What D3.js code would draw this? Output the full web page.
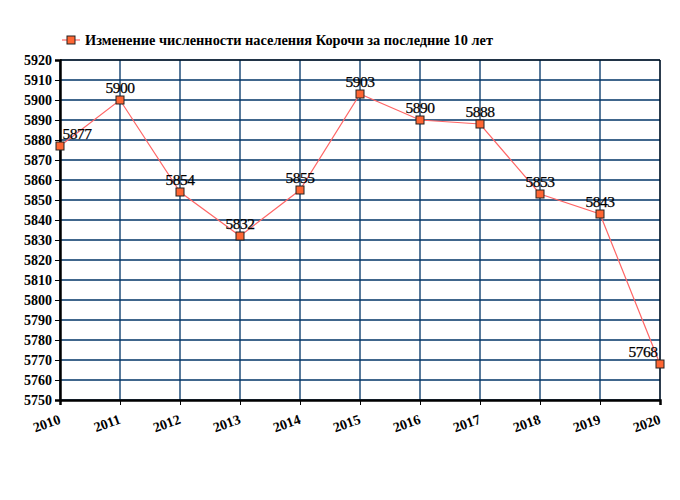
<!DOCTYPE html>
<html><head><meta charset="utf-8">
<script src="https://cdn.jsdelivr.net/npm/d3@7"></script>
<style>body{margin:0;background:#fff}</style>
</head><body>
<svg id="c" width="680" height="500"></svg>
<script>
const years = [2010,2011,2012,2013,2014,2015,2016,2017,2018,2019,2020];
const population = [5877,5900,5854,5832,5855,5903,5890,5888,5853,5843,5768];
const yTicks = [5750,5760,5770,5780,5790,5800,5810,5820,5830,5840,5850,5860,5870,5880,5890,5900,5910,5920];
const title = "Изменение численности населения Корочи за последние 10 лет";

const svg = d3.select("#c");
const L=60,R=660,T=60,B=400;
const x = d3.scaleLinear().domain([2010,2020]).range([L,R]);
const y = d3.scaleLinear().domain([5750,5920]).range([B,T]);
const font = "'Liberation Serif','Times New Roman',serif";

// grid
svg.append("g").selectAll("line").data(yTicks).join("line")
  .attr("x1",L).attr("x2",R).attr("y1",d=>y(d)).attr("y2",d=>y(d))
  .attr("stroke","#003366").attr("stroke-width",1.3);
svg.append("g").selectAll("line").data(years).join("line")
  .attr("x1",d=>x(d)).attr("x2",d=>x(d)).attr("y1",T).attr("y2",B)
  .attr("stroke","#003366").attr("stroke-width",1.3);
// border
svg.append("line").attr("x1",L).attr("x2",R).attr("y1",T).attr("y2",T).attr("stroke","#000").attr("stroke-width",1);
svg.append("line").attr("x1",R).attr("x2",R).attr("y1",T).attr("y2",B).attr("stroke","#000").attr("stroke-width",1);

// axes
const ya = svg.append("g").attr("transform",`translate(${L},0)`)
  .call(d3.axisLeft(y).tickValues(yTicks).tickSize(5).tickPadding(3).tickFormat(d3.format("d")));
ya.select(".domain").attr("stroke-width",2.5);
ya.selectAll("text").attr("font-family",font).attr("font-weight","bold").attr("font-size",14).attr("fill","#000");
const xa = svg.append("g").attr("transform",`translate(0,${B})`)
  .call(d3.axisBottom(x).tickValues(years).tickSize(5).tickFormat(d3.format("d")));
xa.select(".domain").attr("stroke-width",2.5);
xa.selectAll("text").attr("font-family",font).attr("font-weight","bold").attr("font-size",14).attr("fill","#000")
  .attr("text-anchor","end").attr("dy",null).attr("y",0)
  .attr("transform","translate(1,23) rotate(-20)");

// line
svg.append("path").datum(years.map((d,i)=>[d,population[i]]))
  .attr("d",d3.line().x(d=>x(d[0])).y(d=>y(d[1])))
  .attr("fill","none").attr("stroke","#ff6666").attr("stroke-width",1.2);
// markers
svg.append("g").selectAll("rect").data(years).join("rect")
  .attr("x",d=>x(d)-4).attr("y",(d,i)=>y(population[i])-4).attr("width",8).attr("height",8)
  .attr("fill","#ff6633").attr("stroke","#222").attr("stroke-width",1);
// labels
svg.append("g").selectAll("text").data(years).join("text")
  .attr("x",(d)=>Math.min(Math.max(x(d),L+17),R-17))
  .attr("y",(d,i)=>y(population[i])-7)
  .attr("text-anchor","middle").attr("font-family",font).attr("font-size",15.5).attr("letter-spacing",-0.5)
  .attr("fill","#000").attr("stroke","#000").attr("stroke-width",0.25)
  .text((d,i)=>population[i]);

// legend
svg.append("line").attr("x1",62).attr("x2",80).attr("y1",40).attr("y2",40).attr("stroke","#ff6666").attr("stroke-width",1.2);
svg.append("rect").attr("x",67).attr("y",36).attr("width",8).attr("height",8).attr("fill","#ff6633").attr("stroke","#222");
svg.append("text").attr("x",85).attr("y",45).attr("font-family",font).attr("font-weight","bold").attr("font-size",14.35).text(title);
</script>
</body></html>
